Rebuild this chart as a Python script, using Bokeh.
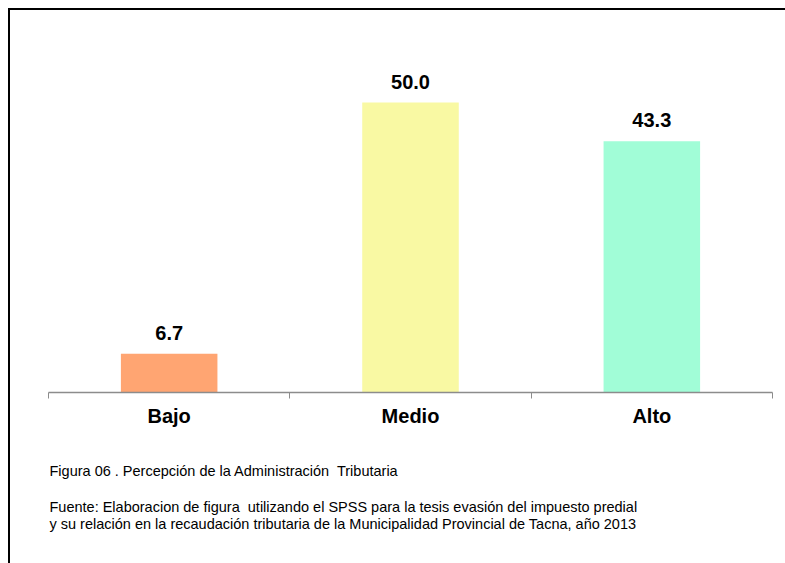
from bokeh.plotting import figure
from bokeh.models import Range1d, FixedTicker, Title, ColumnDataSource
from bokeh.core.properties import value
from bokeh.embed import file_html
from bokeh.resources import INLINE

# ---- data ----
categories = ["Bajo", "Medio", "Alto"]
percentages = [6.7, 50.0, 43.3]
value_labels = ["6.7", "50.0", "43.3"]
bar_colors = ["#FFA572", "#F9F9A3", "#A1FDD7"]
caption_title = "Figura 06 . Percepción de la Administración\u00a0 Tributaria"
caption_source = [
    "Fuente: Elaboracion de figura\u00a0 utilizando el SPSS para la tesis evasión del impuesto predial",
    "y su relación en la recaudación tributaria de la Municipalidad Provincial de Tacna, año 2013",
]

xs = [i + 0.5 for i in range(len(categories))]
source = ColumnDataSource(dict(x=xs, top=percentages, label=value_labels, color=bar_colors))

p = figure(
    width=777, height=555,
    x_range=Range1d(0, len(categories)), y_range=Range1d(0, 60),
    output_backend="svg", toolbar_location=None,
    min_border_left=40, min_border_right=13, min_border_top=36, min_border_bottom=171,
)
p.styles = {"margin-left": "8px", "margin-top": "8px",
            "box-shadow": "inset 2px 2px 0 0 #000000"}
p.border_fill_color = None
p.background_fill_color = None
p.outline_line_color = None
p.xgrid.visible = False
p.ygrid.visible = False
p.yaxis.visible = False

p.vbar(x="x", top="top", width=0.40, bottom=0, fill_color="color", line_color=None, source=source)
p.text(x="x", y="top", text="label", source=source,
       text_align="center", text_baseline="alphabetic", y_offset=-21,
       text_font=value("Liberation Sans"), text_font_size="20px", text_font_style="bold",
       text_color="#000000")

ax = p.xaxis[0]
ax.ticker = FixedTicker(ticks=xs, minor_ticks=list(range(len(categories) + 1)))
ax.major_label_overrides = {x: c for x, c in zip(xs, categories)}
ax.major_tick_line_color = None
ax.major_tick_out = 0
ax.major_tick_in = 0
ax.minor_tick_line_color = "#8C8C8C"
ax.minor_tick_out = 6
ax.minor_tick_in = 0
ax.axis_line_color = "#8C8C8C"
ax.axis_line_width = 1.5
ax.major_label_standoff = 6
ax.major_label_text_font = "Liberation Sans"
ax.major_label_text_font_size = "20px"
ax.major_label_text_font_style = "bold"
ax.major_label_text_color = "#000000"

caption_text = "\n".join([caption_title, "\u00a0"] + caption_source)
cap = Title(text=caption_text, align="left", offset=1, standoff=62,
            text_font="Liberation Sans", text_font_size="14.5px", text_line_height=1.12,
            text_font_style="normal", text_color="#000000")
p.add_layout(cap, "below")

open("out.html", "w").write(file_html(p, INLINE))
